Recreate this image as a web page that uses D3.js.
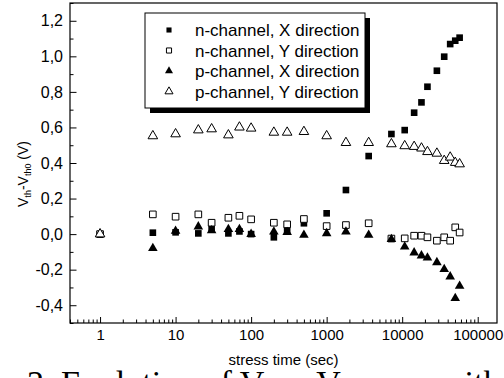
<!DOCTYPE html>
<html>
<head>
<meta charset="utf-8">
<style>
  body { margin: 0; background: #fff; }
  svg text { font-family: "Liberation Sans", Arial, sans-serif; fill: #000; }
  .axis path { display: none; }
  .axis line { stroke: #000; }
</style>
</head>
<body>
<svg id="chart" width="504" height="378"></svg>
<script src="https://d3js.org/d3.v7.min.js"></script>
<script>
// stress time (sec)
var times = [1, 5, 10, 20, 30, 50, 70, 100, 200, 300, 500, 1000, 1800, 3600,
             7200, 10800, 14400, 18000, 21600, 28800, 36000, 43200, 50400, 57600];

// Vth - Vth0 (V)
var nX = [0, 0.008, 0.010, 0.004, 0.027, 0.004, 0.015, 0.000, -0.018, 0.023, 0.061, 0.117, 0.248, 0.439,
          0.563, 0.585, 0.683, 0.741, 0.829, 0.919, 0.998, 1.069, 1.088, 1.105];
var nY = [0, 0.111, 0.098, 0.111, 0.064, 0.092, 0.103, 0.083, 0.064, 0.055, 0.085, 0.045, 0.051, 0.061,
          -0.025, -0.024, -0.009, -0.009, -0.018, -0.037, -0.018, -0.037, 0.038, 0.009];
var pX = [0, -0.080, 0.017, 0.042, 0.020, 0.027, 0.027, 0.000, 0.013, 0.010, -0.005, 0.004, 0.013, -0.005,
          -0.029, -0.071, -0.104, -0.121, -0.133, -0.159, -0.198, -0.239, -0.361, -0.292];
var pY = [0, 0.552, 0.563, 0.585, 0.591, 0.557, 0.601, 0.595, 0.572, 0.572, 0.576, 0.552, 0.514, 0.514,
          0.507, 0.496, 0.492, 0.483, 0.463, 0.454, 0.413, 0.432, 0.402, 0.394];

var seriesNames = ["n-channel, X direction", "n-channel, Y direction", "p-channel, X direction", "p-channel, Y direction"];
var xTicks = [1, 10, 100, 1000, 10000, 100000];
var yTicks = [-0.4, -0.2, 0.0, 0.2, 0.4, 0.6, 0.8, 1.0, 1.2];

var series = [
  { name: seriesNames[0], values: nX, shape: d3.symbolSquare, filled: true },
  { name: seriesNames[1], values: nY, shape: d3.symbolSquare, filled: false },
  { name: seriesNames[2], values: pX, shape: d3.symbolTriangle, filled: true },
  { name: seriesNames[3], values: pY, shape: d3.symbolTriangle, filled: false }
];

var svg = d3.select("#chart"),
    margin = {top: 3, right: 7, bottom: 55, left: 70},
    width = +svg.attr("width") - margin.left - margin.right,
    height = +svg.attr("height") - margin.top - margin.bottom;

svg.append("rect").attr("width", 504).attr("height", 378).attr("fill", "#fff");
var g = svg.append("g").attr("transform", "translate(" + margin.left + "," + margin.top + ")");

var x = d3.scaleLog().domain([0.4, 180000]).range([0, width]);
var y = d3.scaleLinear().domain([-0.5, 1.3]).range([height, 0]);

var comma = function(d) { return d3.format(".1f")(d).replace(".", ",").replace("−", "-"); };

// minor ticks
var xMinor = [];
[0.1, 1, 10, 100, 1000, 10000, 100000].forEach(function(dec) {
  for (var k = 2; k <= 9; k++) {
    var v = dec * k;
    if (v >= 0.4 && v <= 180000) xMinor.push(v);
  }
});
var yMinor = d3.range(-5, 14, 2).map(function(d) { return d / 10; });

g.append("g")
    .attr("class", "axis")
    .attr("transform", "translate(0," + height + ")")
    .call(d3.axisBottom(x).tickValues(xMinor).tickSize(-3.5).tickFormat(""));

g.append("g")
    .attr("class", "axis")
    .attr("transform", "translate(0," + height + ")")
    .call(d3.axisBottom(x).tickValues(xTicks).tickSize(-6).tickPadding(6).tickFormat(d3.format("d")))
    .selectAll("text").attr("font-size", 15).attr("font-family", "Liberation Sans");

g.append("g")
    .attr("class", "axis")
    .call(d3.axisLeft(y).tickValues(yMinor).tickSize(-3.5).tickFormat(""));

g.append("g")
    .attr("class", "axis")
    .call(d3.axisLeft(y).tickValues(yTicks).tickSize(-6.5).tickPadding(7).tickFormat(comma))
    .selectAll("text").attr("font-size", 16).attr("font-family", "Liberation Sans");

// frame
g.append("rect")
    .attr("width", width)
    .attr("height", height)
    .attr("fill", "none")
    .attr("stroke", "#000")
    .attr("stroke-width", 1.2);

// points
series.forEach(function(s) {
  var sym = d3.symbol().type(s.shape).size(s.shape === d3.symbolSquare ? 44 : 40);
  g.selectAll(null)
      .data(times.map(function(t, i) { return [t, s.values[i]]; }))
    .enter().append("path")
      .attr("d", sym)
      .attr("transform", function(d) { return "translate(" + x(d[0]) + "," + y(d[1]) + ")"; })
      .attr("fill", s.filled ? "#000" : "#fff")
      .attr("stroke", "#000")
      .attr("stroke-width", s.filled ? 0 : 1);
});

// legend
var lg = svg.append("g").attr("transform", "translate(145,13)");
lg.append("rect").attr("x", 5).attr("y", 5).attr("width", 220).attr("height", 95).attr("fill", "#000");
lg.append("rect").attr("width", 220).attr("height", 95).attr("fill", "#fff").attr("stroke", "#000").attr("stroke-width", 1);
series.forEach(function(s, i) {
  var row = lg.append("g").attr("transform", "translate(0," + (17 + i * 20.5) + ")");
  row.append("path")
      .attr("d", d3.symbol().type(s.shape).size(s.shape === d3.symbolSquare ? 26 : 28))
      .attr("transform", "translate(24,0)")
      .attr("fill", s.filled ? "#000" : "#fff")
      .attr("stroke", "#000")
      .attr("stroke-width", s.filled ? 0 : 1);
  row.append("text")
      .attr("x", 50)
      .attr("dy", "0.36em")
      .attr("font-size", 17)
      .text(s.name);
});

// axis titles
svg.append("text")
    .attr("x", margin.left + width / 2)
    .attr("y", 365)
    .attr("text-anchor", "middle")
    .attr("font-size", 15)
    .text("stress time (sec)");

var yl = svg.append("text")
    .attr("transform", "translate(28,174) rotate(-90)")
    .attr("text-anchor", "middle")
    .attr("font-size", 14);
yl.append("tspan").text("V");
yl.append("tspan").attr("font-size", 9).attr("dy", 3).text("th");
yl.append("tspan").attr("dy", -3).text("-V");
yl.append("tspan").attr("font-size", 9).attr("dy", 3).text("th0");
yl.append("tspan").attr("dy", -3).text(" (V)");

// figure caption (cut off at the bottom of the picture)
var cap = svg.append("text")
    .attr("x", 27)
    .attr("y", 394)
    .attr("font-size", 34)
    .style("font-family", "Liberation Serif, Times New Roman, serif");
cap.append("tspan").text("2. Evolution of V");
cap.append("tspan").attr("font-size", 26).attr("dy", 7).text("th");
cap.append("tspan").attr("x", 305).attr("dy", -7).text("-V");
cap.append("tspan").attr("font-size", 26).attr("dy", 7).text("th0");
cap.append("tspan").attr("x", 440).attr("dy", -7).text("with");
</script>
</body>
</html>
